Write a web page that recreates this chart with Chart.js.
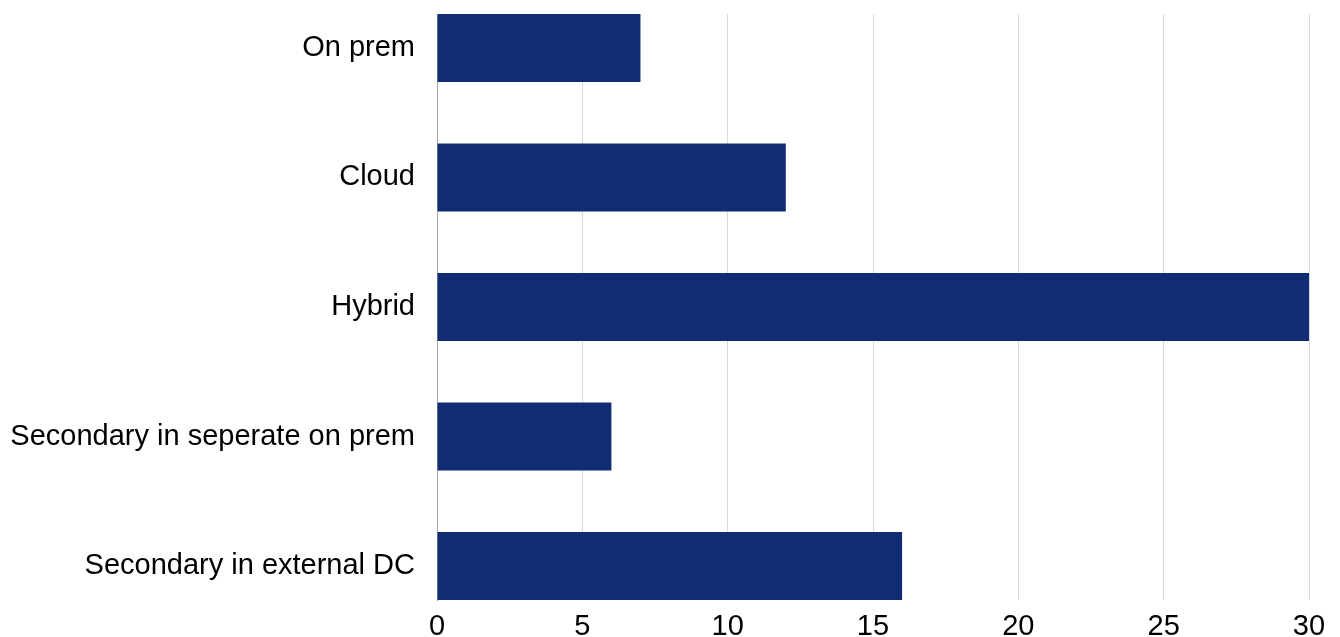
<!DOCTYPE html>
<html>
<head>
<meta charset="utf-8">
<script src="https://cdn.jsdelivr.net/npm/chart.js@4/dist/chart.umd.min.js"></script>
<style>
  html, body { margin: 0; padding: 0; background: #fff; }
  #wrap { width: 1340px; height: 637px; }
</style>
</head>
<body>
<div id="wrap"><canvas id="barChart"></canvas></div>
<script>
const categories = ["On prem", "Cloud", "Hybrid", "Secondary in seperate on prem", "Secondary in external DC"];
const counts = [7, 12, 30, 6, 16];
const xTicks = [0, 5, 10, 15, 20, 25, 30];

const initChart = () => {
  const ctx = document.getElementById("barChart");
  if (!ctx) return;

  // bars sit on a linear index axis so the first/last bar touch the plot edges
  const points = counts.map((v, i) => ({ x: v, y: i }));

  new Chart(ctx, {
    type: 'bar',
    data: {
      datasets: [{
        data: points,
        backgroundColor: '#102D73',
        borderWidth: 0,
        barPercentage: 0.525,
        categoryPercentage: 1
      }]
    },
    options: {
      indexAxis: 'y',
      responsive: true,
      maintainAspectRatio: false,
      animation: false,
      layout: { padding: { top: 14, right: 31, left: 0, bottom: 0 } },
      plugins: { legend: { display: false }, tooltip: { enabled: false } },
      scales: {
        x: {
          type: 'linear',
          min: 0,
          max: 30,
          afterBuildTicks: (scale) => { scale.ticks = xTicks.map(v => ({ value: v })); },
          afterFit: (scale) => { scale.height = 37; },
          grid: { color: '#d9d9d9', lineWidth: 1, drawTicks: false },
          border: { display: false },
          ticks: {
            padding: 10,
            color: '#000',
            font: { family: 'Liberation Sans, Arial', size: 29 }
          }
        },
        y: {
          type: 'linear',
          offset: false,
          reverse: true,
          min: -0.2625,
          max: 4.2625,
          afterBuildTicks: (scale) => { scale.ticks = categories.map((c, i) => ({ value: i })); },
          afterFit: (scale) => {
            scale.width = 437;
            // labels never reach the ends, so no extra room above/below
            scale.paddingTop = 0;
            scale.paddingBottom = 0;
          },
          grid: { display: false, drawTicks: false, offset: false },
          border: { display: true, color: '#a6a6a6', width: 1 },
          ticks: {
            padding: 22,
            color: '#000',
            font: { family: 'Liberation Sans, Arial', size: 29 },
            callback: (value) => categories[value]
          }
        }
      }
    }
  });
};

initChart();
</script>
</body>
</html>
